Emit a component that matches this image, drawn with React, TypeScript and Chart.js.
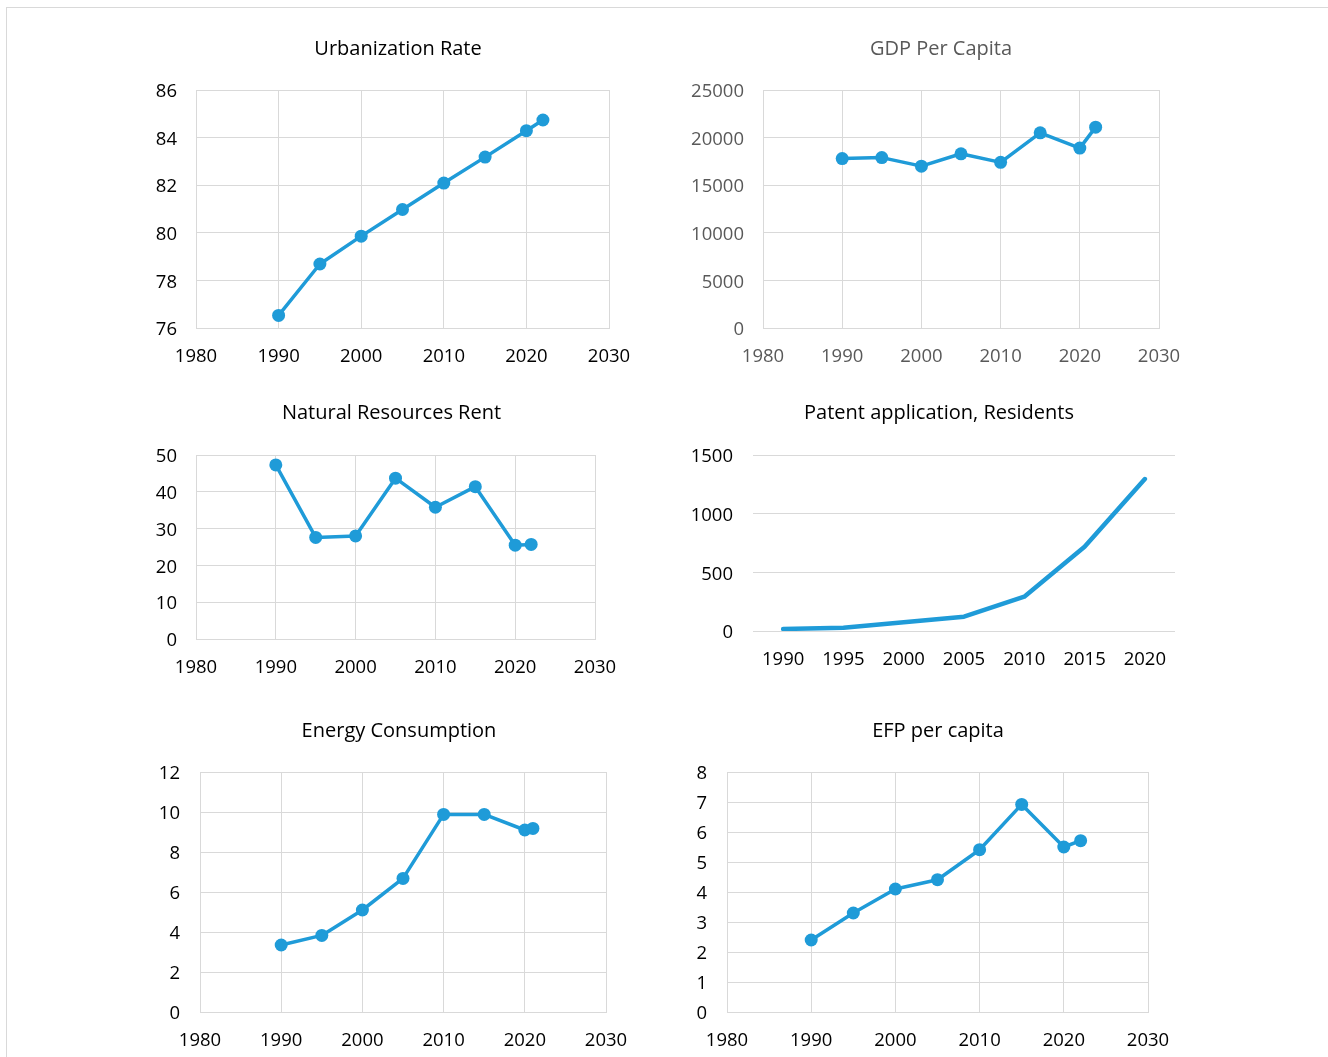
import React, { useEffect, useRef } from "react";
import { Chart, registerables } from "chart.js";

Chart.register(...registerables);

// ---------------- DATA ----------------
const urbanYears = [1990, 1995, 2000, 2005, 2010, 2015, 2020, 2022];
const urbanizationRate = [76.53, 78.69, 79.86, 80.98, 82.09, 83.18, 84.29, 84.74];

const gdpYears = [1990, 1995, 2000, 2005, 2010, 2015, 2020, 2022];
const gdpPerCapita = [17800, 17900, 17000, 18300, 17400, 20500, 18900, 21100];

const rentYears = [1990, 1995, 2000, 2005, 2010, 2015, 2020, 2022];
const naturalResourcesRent = [47.3, 27.6, 28.0, 43.7, 35.8, 41.4, 25.5, 25.7];

const patentCategories = ["1990", "1995", "2000", "2005", "2010", "2015", "2020"];
const patentResidents = [17, 28, 74, 122, 292, 718, 1295];

const energyYears = [1990, 1995, 2000, 2005, 2010, 2015, 2020, 2021];
const energyConsumption = [3.35, 3.83, 5.1, 6.68, 9.88, 9.88, 9.1, 9.18];

const efpYears = [1990, 1995, 2000, 2005, 2010, 2015, 2020, 2022];
const efpPerCapita = [2.4, 3.3, 4.1, 4.41, 5.41, 6.92, 5.5, 5.71];

// ---------------- STYLE ----------------
const FONT = "'Open Sans', Lato, 'Noto Sans', sans-serif";
const BLUE = "#1f9bd8";
const GRID = "#d9d9d9";
const TITLE_SIZE = 20;
const TICK_SIZE = 18.5;

type Box = { left: number; top: number; right: number; bottom: number };

type Panel = {
  id: string;
  title: string;
  color: string;
  canvasLeft: number;
  canvasTop: number;
  canvasBottom: number;
  plot: Box;
  titleX: number;
  titleY: number;
  yLabelRight: number;
  kind: "xy" | "category";
  xs?: number[];
  labels?: string[];
  ys: number[];
  yMin: number;
  yMax: number;
  yStep: number;
};

const panels: Panel[] = [
  {
    id: "urban", title: "Urbanization Rate", color: "#000000",
    canvasLeft: 130, canvasTop: 20, canvasBottom: 378,
    plot: { left: 196, top: 90, right: 609, bottom: 328 },
    titleX: 398, titleY: 49, yLabelRight: 177, kind: "xy",
    xs: urbanYears, ys: urbanizationRate, yMin: 76, yMax: 86, yStep: 2,
  },
  {
    id: "gdp", title: "GDP Per Capita", color: "#595959",
    canvasLeft: 670, canvasTop: 20, canvasBottom: 378,
    plot: { left: 763, top: 90, right: 1159, bottom: 328 },
    titleX: 941, titleY: 49, yLabelRight: 744, kind: "xy",
    xs: gdpYears, ys: gdpPerCapita, yMin: 0, yMax: 25000, yStep: 5000,
  },
  {
    id: "rent", title: "Natural Resources Rent", color: "#000000",
    canvasLeft: 130, canvasTop: 382, canvasBottom: 690,
    plot: { left: 196, top: 455, right: 595, bottom: 639 },
    titleX: 391.5, titleY: 413, yLabelRight: 177, kind: "xy",
    xs: rentYears, ys: naturalResourcesRent, yMin: 0, yMax: 50, yStep: 10,
  },
  {
    id: "patent", title: "Patent application, Residents", color: "#000000",
    canvasLeft: 670, canvasTop: 382, canvasBottom: 690,
    plot: { left: 753, top: 455, right: 1175, bottom: 631 },
    titleX: 939, titleY: 413, yLabelRight: 733, kind: "category",
    labels: patentCategories, ys: patentResidents, yMin: 0, yMax: 1500, yStep: 500,
  },
  {
    id: "energy", title: "Energy Consumption", color: "#000000",
    canvasLeft: 130, canvasTop: 700, canvasBottom: 1055,
    plot: { left: 200, top: 772, right: 606, bottom: 1012 },
    titleX: 399, titleY: 731, yLabelRight: 180, kind: "xy",
    xs: energyYears, ys: energyConsumption, yMin: 0, yMax: 12, yStep: 2,
  },
  {
    id: "efp", title: "EFP per capita", color: "#000000",
    canvasLeft: 670, canvasTop: 700, canvasBottom: 1055,
    plot: { left: 727, top: 772, right: 1148, bottom: 1012 },
    titleX: 938, titleY: 731, yLabelRight: 707, kind: "xy",
    xs: efpYears, ys: efpPerCapita, yMin: 0, yMax: 8, yStep: 1,
  },
];

function canvasRight(p: Panel) {
  // title is centred on the full canvas width
  return 2 * p.titleX - p.canvasLeft;
}

function makeConfig(p: Panel): any {
  const lh = TITLE_SIZE * 1.2;
  const padTop = p.titleY - p.canvasTop - lh / 2;
  const padBottom = p.plot.top - p.canvasTop - lh - padTop;
  const rightSpace = canvasRight(p) - p.plot.right;
  const yWidth = p.plot.left - p.canvasLeft;
  const xHeight = p.canvasBottom - p.plot.bottom;
  const xLabelPad = 29 - (TICK_SIZE * 1.2) / 2;
  const tickFont = { family: FONT, size: TICK_SIZE };

  const yScale = {
    type: "linear",
    position: "left",
    min: p.yMin,
    max: p.yMax,
    ticks: {
      stepSize: p.yStep,
      font: tickFont,
      color: p.color,
      padding: p.plot.left - p.yLabelRight,
      labelOffset: 2,
      callback: (v: any) => String(v),
    },
    grid: { color: GRID, lineWidth: 1, drawTicks: false },
    border: { display: p.kind === "xy", color: GRID, width: 1 },
    afterFit: (s: any) => {
      s.width = yWidth;
      s.paddingTop = 0;
      s.paddingBottom = 0;
    },
  };

  // invisible spacer axis on the right, so the plot ends where the reference's does
  const spacer = {
    type: "linear",
    position: "right",
    display: true,
    min: 0,
    max: 1,
    ticks: { display: false },
    grid: { display: false, drawTicks: false },
    border: { display: false },
    afterFit: (s: any) => {
      s.width = rightSpace;
      s.paddingTop = 0;
      s.paddingBottom = 0;
    },
  };

  let data: any;
  let xScale: any;
  if (p.kind === "xy") {
    data = {
      datasets: [
        {
          data: (p.xs as number[]).map((x, i) => ({ x, y: p.ys[i] })),
          borderColor: BLUE,
          backgroundColor: BLUE,
          borderWidth: 3.5,
          pointRadius: 6.5,
          pointBackgroundColor: BLUE,
          pointBorderWidth: 0,
          borderJoinStyle: "round",
          tension: 0,
        },
      ],
    };
    xScale = {
      type: "linear",
      min: 1980,
      max: 2030,
      ticks: {
        stepSize: 10,
        font: tickFont,
        color: p.color,
        padding: xLabelPad,
        maxRotation: 0,
        callback: (v: any) => String(v),
      },
      grid: { color: GRID, lineWidth: 1, drawTicks: false },
      border: { color: GRID, width: 1 },
      afterFit: (s: any) => {
        s.height = xHeight;
        s.paddingLeft = 0;
        s.paddingRight = 0;
      },
    };
  } else {
    data = {
      labels: p.labels,
      datasets: [
        {
          data: p.ys,
          borderColor: BLUE,
          backgroundColor: BLUE,
          borderWidth: 4.5,
          pointRadius: 0,
          borderJoinStyle: "round",
          borderCapStyle: "round",
          tension: 0,
        },
      ],
    };
    xScale = {
      type: "category",
      offset: true,
      ticks: { font: tickFont, color: p.color, padding: xLabelPad, maxRotation: 0 },
      grid: { display: false, drawTicks: false },
      border: { display: false },
      afterFit: (s: any) => {
        s.height = xHeight;
        s.paddingLeft = 0;
        s.paddingRight = 0;
      },
    };
  }

  return {
    type: "line",
    data,
    options: {
      responsive: false,
      animation: false,
      events: [],
      layout: { padding: 0 },
      plugins: {
        legend: { display: false },
        tooltip: { enabled: false },
        title: {
          display: true,
          text: p.title,
          color: p.color,
          font: { family: FONT, size: TITLE_SIZE, weight: "normal" },
          padding: { top: padTop, bottom: padBottom },
        },
      },
      scales: { x: xScale, y: yScale, spacer },
    },
  };
}

function ChartPanel({ p }: { p: Panel }) {
  const ref = useRef<HTMLCanvasElement | null>(null);
  useEffect(() => {
    if (!ref.current) return;
    const chart = new Chart(ref.current, makeConfig(p));
    return () => chart.destroy();
  }, [p]);
  const w = canvasRight(p) - p.canvasLeft;
  const h = p.canvasBottom - p.canvasTop;
  return (
    <canvas
      ref={ref}
      width={w}
      height={h}
      style={{ position: "absolute", left: p.canvasLeft, top: p.canvasTop, width: w, height: h }}
    />
  );
}

export default function App() {
  return (
    <div style={{ position: "absolute", left: 0, top: 0, width: 1328, height: 1057, overflow: "hidden", background: "#fff" }}>
      <div
        style={{
          position: "absolute",
          left: 6,
          top: 7,
          width: 1322,
          height: 1050,
          borderTop: "1px solid #d9d9d9",
          borderLeft: "1px solid #d9d9d9",
        }}
      />
      {panels.map((p) => (
        <ChartPanel key={p.id} p={p} />
      ))}
    </div>
  );
}
